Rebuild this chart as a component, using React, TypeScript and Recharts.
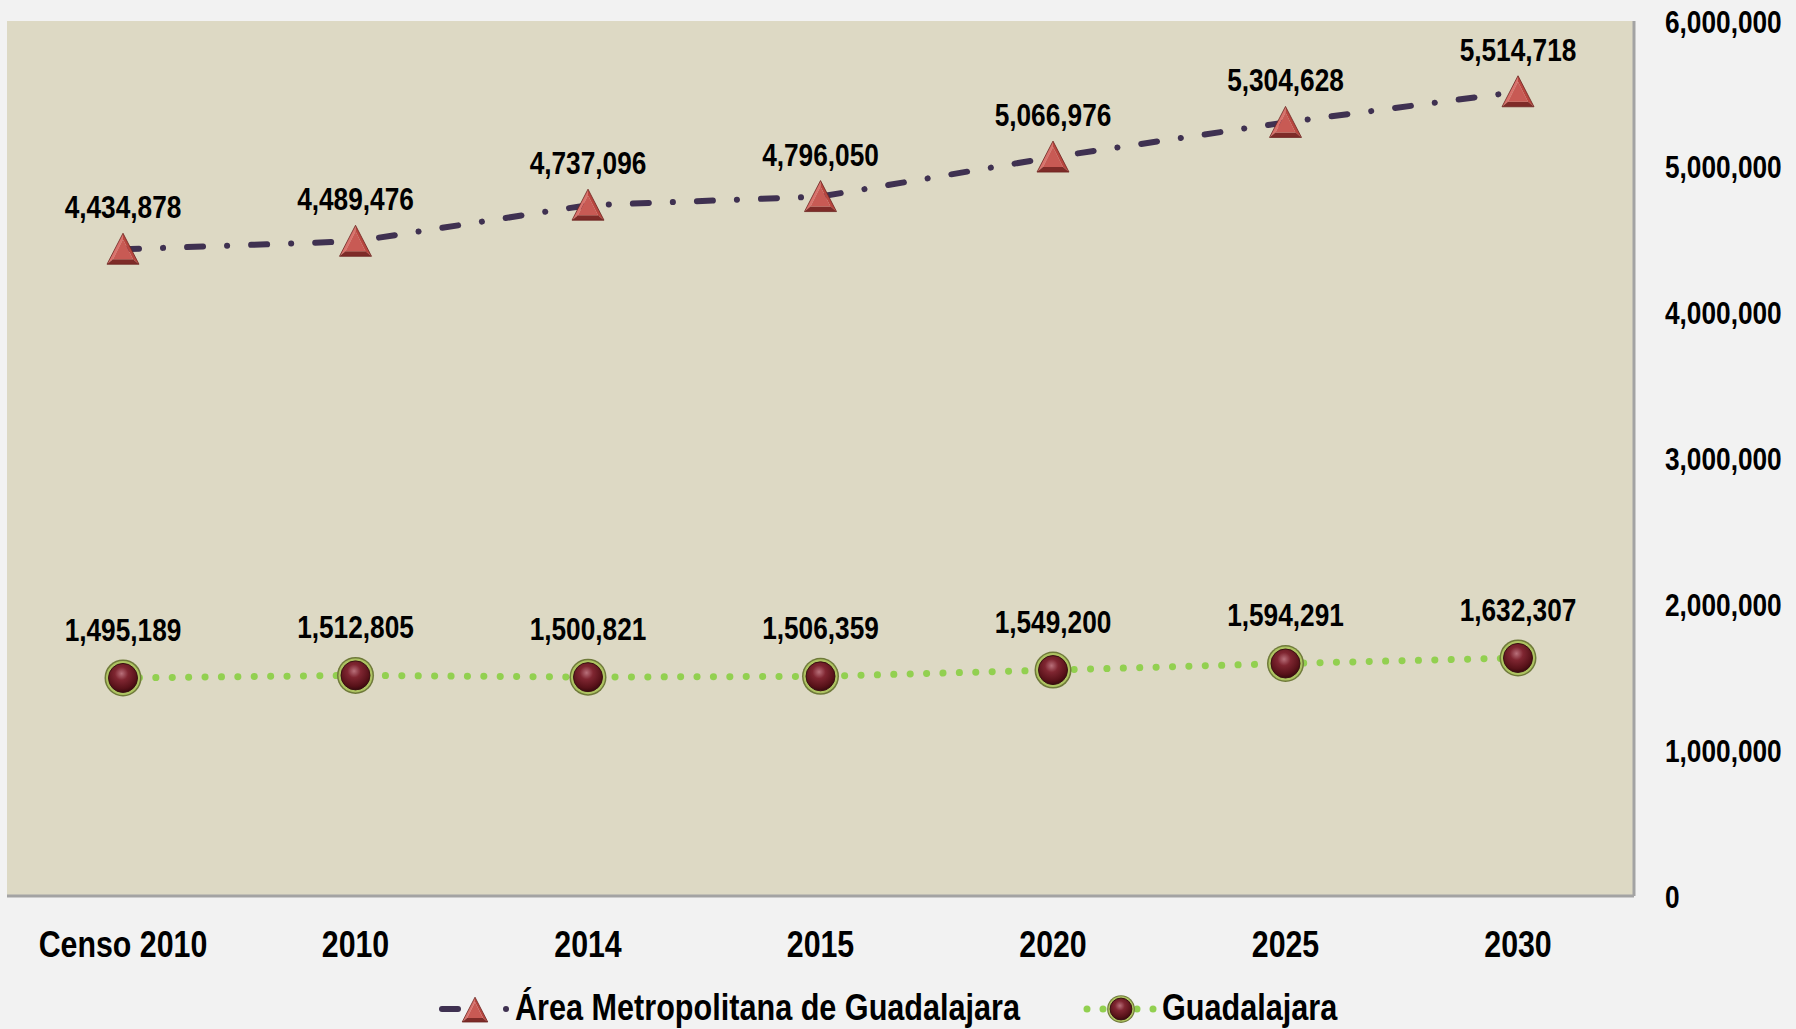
import React from 'react';
import { LineChart, Line, XAxis, YAxis, CartesianGrid, LabelList } from 'recharts';

const categories = ['Censo 2010', '2010', '2014', '2015', '2020', '2025', '2030'];
const amgValues = [4434878, 4489476, 4737096, 4796050, 5066976, 5304628, 5514718];
const gdlValues = [1495189, 1512805, 1500821, 1506359, 1549200, 1594291, 1632307];
const yTicks = [0, 1000000, 2000000, 3000000, 4000000, 5000000, 6000000];
const seriesNames = ['Área Metropolitana de Guadalajara', 'Guadalajara'];

const data = categories.map((c, i) => ({ name: c, amg: amgValues[i], gdl: gdlValues[i] }));

const FONT = "'Liberation Sans',Arial,sans-serif";
const SX = 0.82;
const fmt = (v: number) => Number(v).toLocaleString('en-US');

const AMG_COLOR = '#3f3151';
const GDL_COLOR = '#92d050';

const pts = (...p: number[][]) => p.map((q) => q.join(',')).join(' ');

const NarrowText = ({ x, y, anchor, size, children, sx = SX }: any) => (
  <text
    transform={`translate(${x},${y}) scale(${sx},1)`}
    x={0}
    y={0}
    textAnchor={anchor}
    fontFamily={FONT}
    fontWeight="bold"
    fontSize={size}
    fill="#000"
  >
    {children}
  </text>
);

const TriangleShape = ({ cx, cy, s = 1 }: any) => {
  const A = [cx, cy - 16 * s], L = [cx - 16 * s, cy + 15 * s], R = [cx + 16 * s, cy + 15 * s];
  const a = [cx, cy - 10 * s], l = [cx - 10 * s, cy + 10 * s], r = [cx + 10 * s, cy + 10 * s];
  return (
    <g>
      <polygon points={pts(A, L, l, a)} fill="#d9726c" />
      <polygon points={pts(A, R, r, a)} fill="#b8463f" />
      <polygon points={pts(L, R, r, l)} fill="#7e2b28" />
      <polygon points={pts(a, l, r)} fill="#c85a54" />
      <polygon points={pts(A, L, R)} fill="none" stroke="#6b2320" strokeWidth={0.8} />
    </g>
  );
};

const SphereShape = ({ cx, cy, s = 1, gid = 'sph' }: any) => (
  <g>
    <circle cx={cx} cy={cy} r={18.5 * s} fill="#6f7a3a" />
    <circle cx={cx} cy={cy} r={17 * s} fill="#aec462" />
    <circle cx={cx} cy={cy} r={14.5 * s} fill={`url(#${gid})`} stroke="#3a1012" strokeWidth={1} />
  </g>
);

const SphereGrad = ({ id }: { id: string }) => (
  <radialGradient id={id} cx="45%" cy="35%" r="65%">
    <stop offset="0%" stopColor="#b8707a" />
    <stop offset="35%" stopColor="#7f2631" />
    <stop offset="80%" stopColor="#581219" />
    <stop offset="100%" stopColor="#3a0a0e" />
  </radialGradient>
);

const renderTri = (props: any) => {
  const { cx, cy, index } = props;
  if (cx == null || cy == null) return <g key={`t${index}`} />;
  return <TriangleShape key={`t${index}`} cx={cx} cy={cy} />;
};

const renderSphere = (props: any) => {
  const { cx, cy, index } = props;
  if (cx == null || cy == null) return <g key={`s${index}`} />;
  return <SphereShape key={`s${index}`} cx={cx} cy={cy} />;
};

const makeLabel = (dy: number) => (props: any) => {
  const { x, y, value, index } = props;
  return (
    <NarrowText key={`l${dy}-${index}`} x={x} y={y - dy} anchor="middle" size={32}>
      {fmt(value)}
    </NarrowText>
  );
};

const XTick = (props: any) => {
  const { x, y, payload } = props;
  return (
    <NarrowText x={x} y={y + 26} anchor="middle" size={37}>
      {payload.value}
    </NarrowText>
  );
};

const YTick = (props: any) => {
  const { x, y, payload } = props;
  return (
    <NarrowText x={x} y={y + 11.5} anchor="start" size={32}>
      {fmt(payload.value)}
    </NarrowText>
  );
};

const legendText: React.CSSProperties = {
  fontFamily: FONT,
  fontWeight: 'bold',
  fontSize: 36,
  color: '#000',
  lineHeight: '40px',
  whiteSpace: 'nowrap',
  display: 'inline-block',
  transform: 'scaleX(0.85)',
  transformOrigin: 'left center',
};

export default function App() {
  return (
    <div style={{ position: 'relative', width: 1796, height: 1029, background: '#f2f2f2', overflow: 'hidden' }}>
      <style>{'body{margin:0;background:#f2f2f2}'}</style>
      <LineChart width={1796} height={1029} data={data} margin={{ top: 21, right: 0, bottom: 0, left: 7 }}>
        <defs>
          <SphereGrad id="sph" />
        </defs>
        <CartesianGrid horizontal={false} vertical={false} fill="#ddd9c4" />
        <XAxis
          dataKey="name"
          padding={{ left: 116, right: 116 }}
          height={133}
          tickLine={false}
          tickSize={0}
          tickMargin={35}
          axisLine={{ stroke: '#a3a3a3', strokeWidth: 3 }}
          tick={<XTick />}
          interval={0}
        />
        <YAxis
          orientation="right"
          width={162}
          domain={[0, 6000000]}
          ticks={yTicks}
          tickLine={false}
          tickSize={0}
          tickMargin={31}
          axisLine={{ stroke: '#a3a3a3', strokeWidth: 3 }}
          tick={<YTick />}
          interval={0}
        />
        <Line
          dataKey="amg"
          name={seriesNames[0]}
          stroke={AMG_COLOR}
          strokeWidth={6}
          strokeDasharray="16 24 0.1 24"
          strokeLinecap="round"
          dot={renderTri}
          activeDot={false}
          isAnimationActive={false}
        >
          <LabelList dataKey="amg" content={makeLabel(31)} />
        </Line>
        <Line
          dataKey="gdl"
          name={seriesNames[1]}
          stroke={GDL_COLOR}
          strokeWidth={7}
          strokeDasharray="0.1 16.3"
          strokeLinecap="round"
          dot={renderSphere}
          activeDot={false}
          isAnimationActive={false}
        >
          <LabelList dataKey="gdl" content={makeLabel(37)} />
        </Line>
      </LineChart>
      <div style={{ position: 'absolute', left: 436, top: 988, display: 'flex', alignItems: 'center' }}>
        <svg width={79} height={40}>
          <line x1={6} y1={21} x2={22} y2={21} stroke={AMG_COLOR} strokeWidth={6} strokeLinecap="round" />
          <TriangleShape cx={39} cy={22} s={0.8} />
          <circle cx={70} cy={21} r={3} fill={AMG_COLOR} />
        </svg>
        <span style={legendText}>{seriesNames[0]}</span>
      </div>
      <div style={{ position: 'absolute', left: 1080, top: 988, display: 'flex', alignItems: 'center' }}>
        <svg width={82} height={40}>
          <defs>
            <SphereGrad id="sphLeg" />
          </defs>
          <circle cx={7} cy={21} r={3.5} fill={GDL_COLOR} />
          <circle cx={23} cy={21} r={3.5} fill={GDL_COLOR} />
          <circle cx={57} cy={21} r={3.5} fill={GDL_COLOR} />
          <circle cx={73} cy={21} r={3.5} fill={GDL_COLOR} />
          <SphereShape cx={41} cy={21} s={0.75} gid="sphLeg" />
        </svg>
        <span style={legendText}>{seriesNames[1]}</span>
      </div>
    </div>
  );
}
